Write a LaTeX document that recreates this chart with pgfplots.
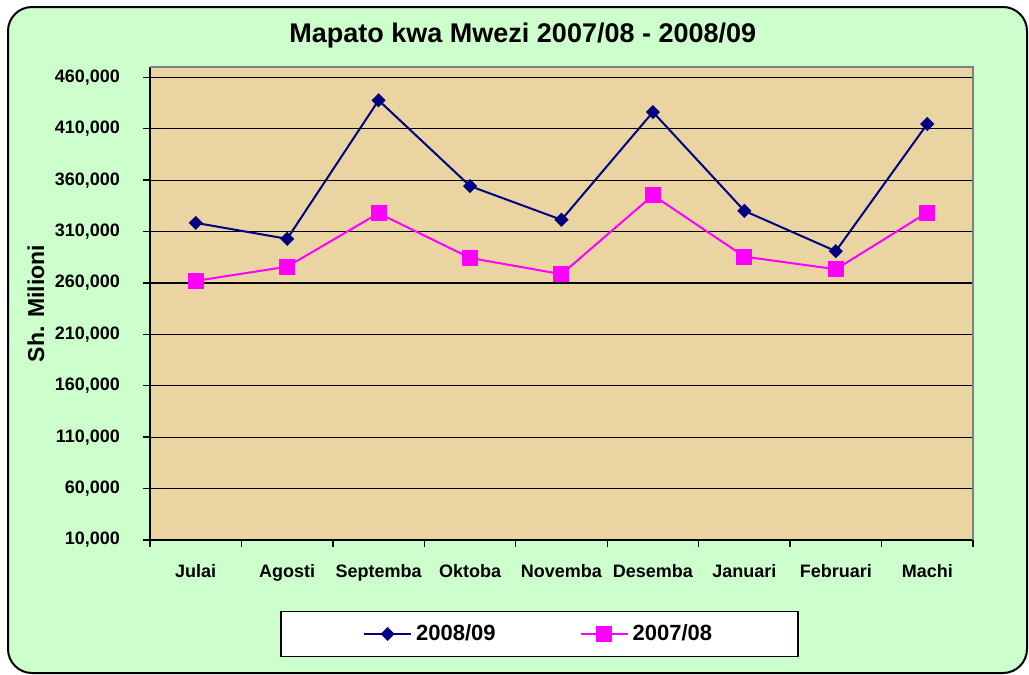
\documentclass[border=0pt]{standalone}
\usepackage{fontspec}
\setmainfont{Liberation Sans}
\usepackage{pgfplots}
\pgfplotsset{compat=1.18}
\definecolor{panelgreen}{RGB}{204,255,204}
\definecolor{papyrus}{RGB}{234,212,162}
\definecolor{navyline}{RGB}{0,0,128}
\definecolor{pinkline}{RGB}{255,0,255}
\definecolor{framegray}{RGB}{128,128,128}

\begin{document}
\begin{tikzpicture}[x=1pt,y=1pt]
\useasboundingbox (0,0) rectangle (514.5,-337.5);
\draw[line width=1pt, fill=panelgreen, rounded corners=12pt] (4,-3.5) rectangle (513.5,-336.5);
\begin{axis}[
    at={(75pt,-270pt)}, anchor=south west,
    scale only axis, width=411.5pt, height=236.5pt,
    xmin=0.5, xmax=9.5, ymin=10000, ymax=470000,
    axis background/.style={fill=papyrus},
    axis lines=left, axis line style={-, line width=1pt, black},
    xtick={0.5,1.5,...,9.5},
    x tick label as interval,
    xticklabels={Julai,Agosti,Septemba,Oktoba,Novemba,Desemba,Januari,Februari,Machi},
    ytick={10000,60000,...,460000},
    scaled y ticks=false,
    yticklabel={\pgfmathprintnumber[fixed,precision=0,1000 sep={,},assume math mode=true]{\tick}},
    ymajorgrids, major grid style={black, line width=0.6pt},
    tick align=outside, major tick length=3.5pt,
    tick style={black, line width=0.7pt},
    ticklabel style={font=\bfseries\fontsize{9}{10}\selectfont},
    yticklabel style={xshift=-8pt},
    xticklabel style={yshift=-5pt},
    title={Mapato kwa Mwezi 2007/08 - 2008/09},
    every axis title shift=0pt,
    title style={at={(axis description cs:0.453,1.0666)}, anchor=center,
        font=\bfseries\fontsize{13.5}{16}\selectfont},
    ylabel={Sh. Milioni},
    every axis y label/.style={at={(axis description cs:-0.1385,0.5)}, rotate=90, anchor=center,
        font=\bfseries\fontsize{11.5}{13}\selectfont},
    legend columns=2,
    legend style={at={(axis description cs:0.4735,-0.1987)}, anchor=center,
        draw=black, line width=0.8pt, fill=white,
        inner xsep=41pt, inner ysep=4.5pt,
        font=\bfseries\fontsize{11}{13}\selectfont,
        /tikz/every even column/.append style={column sep=40pt}},
    legend image code/.code={\draw[mark repeat=2,mark phase=2] plot coordinates {(0pt,0pt) (11.75pt,0pt) (23.5pt,0pt)};},
    clip=false,
]
\addplot[navyline, line width=1pt, mark=square*, mark size=2pt,
    mark options={rotate=45, solid, fill=navyline}] coordinates {
(1,318400) (2,302900) (3,437600) (4,354200) (5,321400)
(6,426200) (7,330100) (8,290900) (9,414600)};
\addplot[pinkline, line width=1pt, mark=square*, mark size=3.5pt,
    mark options={solid, fill=pinkline}] coordinates {
(1,262000) (2,275800) (3,327800) (4,284300) (5,268500)
(6,345300) (7,285600) (8,273300) (9,328500)};
\legend{2008/09,2007/08}
\draw[framegray, line width=1pt] (rel axis cs:0,1) -- (rel axis cs:1,1) -- (rel axis cs:1,0);
\end{axis}
\end{tikzpicture}
\end{document}
